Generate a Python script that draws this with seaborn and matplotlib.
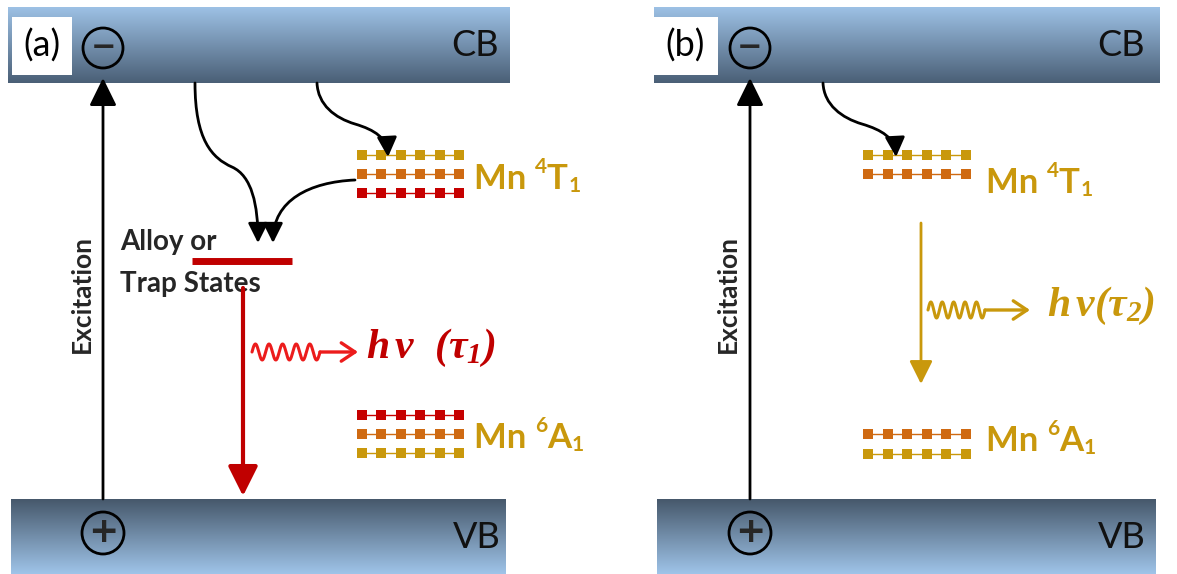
import numpy as np
import pandas as pd
import matplotlib
matplotlib.use("Agg")
import matplotlib.pyplot as plt
import matplotlib.colors as mcolors
from matplotlib.patches import Rectangle, Circle, FancyArrowPatch
from matplotlib.path import Path
import seaborn as sns

# ---------------- data (labels and level energies) ----------------
panel_labels = ["(a)", "(b)"]
band_labels = ["CB", "VB"]
excitation_label = "Excitation"
trap_label = ["Alloy or", "Trap States"]
emission_labels = [r"$h\,\nu\ \ (\tau_1)$", r"$h\,\nu(\tau_2)$"]
mn_upper_parts = ["Mn ", "4", "T", "1"]
mn_lower_parts = ["Mn ", "6", "A", "1"]

# Mn sub-levels (image rows, top = 0) and their tones
a_4T1_levels = [155, 174, 193]
a_4T1_tones = ["gold", "orange", "red"]
a_6A1_levels = [415, 434, 453]
a_6A1_tones = ["red", "orange", "gold"]
b_4T1_levels = [155, 174]
b_4T1_tones = ["gold", "orange"]
b_6A1_levels = [434, 454]
b_6A1_tones = ["orange", "gold"]
sublevel_sites = [0, 1, 2, 3, 4, 5]
trap_level = 261

# ---------------- style ----------------
sns.set_theme(style="white")
plt.rcParams["font.family"] = ["Lato", "DejaVu Sans"]
plt.rcParams["mathtext.fontset"] = "custom"
plt.rcParams["mathtext.it"] = "Liberation Serif:italic:bold"
plt.rcParams["mathtext.rm"] = "Liberation Serif:italic:bold"

tone_colors = {"gold": "#c9980c", "orange": "#cf6a12", "red": "#c60000"}
RED = "#c00000"
WAVE_RED = "#ec1c1c"
GOLD = "#c9980c"
CB_TOP, CB_BOT = "#9dc1e5", "#4a5f76"
VB_TOP, VB_BOT = "#46586b", "#9fc4e9"

fig = plt.figure(figsize=(11.77, 5.74), dpi=100)
ax = fig.add_axes([0, 0, 1, 1])


def band(x0, x1, y0, y1, c_top, c_bot):
    t = np.linspace(0, 1, 256)[:, None]
    top = np.array(mcolors.to_rgb(c_top))
    bot = np.array(mcolors.to_rgb(c_bot))
    img = (1 - t)[:, :, None] * top + t[:, :, None] * bot
    ax.imshow(img, extent=(x0, x1, y1, y0), origin="upper", aspect="auto",
              zorder=1, interpolation="bilinear")


def arrow(p0, p1, color="black", lw=2, hl=0.55, hw=0.28, ms=30, style="-|>"):
    st = f"{style},head_length={hl},head_width={hw}" if style == "-|>" else style
    a = FancyArrowPatch(p0, p1, arrowstyle=st, mutation_scale=ms, lw=lw,
                        color=color, shrinkA=0, shrinkB=0, zorder=4)
    ax.add_patch(a)


def curve(points, ms=20):
    codes = [Path.MOVETO] + [Path.CURVE4] * (len(points) - 1)
    p = Path(points, codes)
    a = FancyArrowPatch(path=p, arrowstyle="-|>,head_length=0.6,head_width=0.3",
                        mutation_scale=ms, lw=2, color="black", zorder=4)
    ax.add_patch(a)


def wave(x0, x1, x_end, y, color):
    xs = np.linspace(x0, x1, 300)
    ys = y - 8 * np.sin((xs - x0) / (x1 - x0) * 2 * np.pi * 5)
    ax.plot(xs, ys, color=color, lw=2.2, zorder=4)
    arrow((x1, y), (x_end, y), color=color, lw=2.4,
          style="->,head_length=0.45,head_width=0.3", ms=22)


def levels(x0, spacing, ys, tones):
    rows = []
    for r, (yv, tn) in enumerate(zip(ys, tones)):
        for s in sublevel_sites:
            rows.append({"x": x0 + s * spacing, "y": yv, "tone": tn, "row": f"{x0}-{r}"})
    df = pd.DataFrame(rows)
    sns.lineplot(data=df, x="x", y="y", hue="tone", units="row", estimator=None,
                 palette=tone_colors, lw=1, legend=False, ax=ax, zorder=3, sort=False)
    sns.scatterplot(data=df, x="x", y="y", hue="tone", palette=tone_colors,
                    marker="s", s=50, linewidth=0, legend=False, ax=ax, zorder=3)


def term_label(x, y, parts, size=25):
    base, sup, main, sub = parts
    kw = dict(color=GOLD, fontweight="bold", zorder=3, annotation_clip=False)
    t1 = ax.text(x, y, base, fontsize=size, color=GOLD, fontweight="bold",
                 ha="left", va="center", zorder=3)
    t2 = ax.annotate(sup, xy=(1, 0.55), xycoords=t1, ha="left", va="bottom",
                     fontsize=size * 0.6, **kw)
    t3 = ax.annotate(main, xy=(1, 0), xycoords=(t2, t1), ha="left", va="bottom",
                     fontsize=size, **kw)
    ax.annotate(sub, xy=(1, 0), xycoords=(t3, t1), xytext=(0.5, -1),
                textcoords="offset points", ha="left", va="bottom",
                fontsize=size * 0.6, **kw)


panels = [
    dict(x0=8, x1=510, exc=103, lab_box=(12, 17, 60, 58), lab_c=(42, 46),
         cb_txt=475, vb_txt=477, lev_x=362, lev_dx=19.4, mn_x=474,
         up=(a_4T1_levels, a_4T1_tones), lo=(a_6A1_levels, a_6A1_tones),
         mn_up_y=179, mn_lo_y=438, exc_txt=82),
    dict(x0=654, x1=1160, exc=750, lab_box=(653, 17, 65, 58), lab_c=(685, 46),
         cb_txt=1121, vb_txt=1122, lev_x=868, lev_dx=19.6, mn_x=986,
         up=(b_4T1_levels, b_4T1_tones), lo=(b_6A1_levels, b_6A1_tones),
         mn_up_y=183, mn_lo_y=441, exc_txt=728),
]

for i, P in enumerate(panels):
    band(P["x0"], P["x1"], 7, 83, CB_TOP, CB_BOT)
    band(P["x0"] + 3, P["x1"] - 4, 499, 574, VB_TOP, VB_BOT)
    bx, by, bw, bh = P["lab_box"]
    ax.add_patch(Rectangle((bx, by), bw, bh, facecolor="white", edgecolor="none", zorder=2))
    ax.text(*P["lab_c"], panel_labels[i], fontsize=26, ha="center", va="center",
            color="black", zorder=3)
    ax.text(P["cb_txt"], 46, band_labels[0], fontsize=26, ha="center", va="center",
            color="#111111", zorder=3)
    ax.text(P["vb_txt"], 538, band_labels[1], fontsize=26, ha="center", va="center",
            color="#111111", zorder=3)
    # charge circles
    ax.add_patch(Circle((P["exc"], 48), 20, facecolor="none", edgecolor="black", lw=2, zorder=3))
    ax.text(P["exc"], 47, "\u2212", fontsize=22, fontweight="bold", ha="center", va="center",
            family="DejaVu Sans", zorder=3)
    ax.add_patch(Circle((P["exc"], 533), 21, facecolor="none", edgecolor="black", lw=2, zorder=3))
    ax.text(P["exc"], 532, "+", fontsize=26, fontweight="bold", ha="center", va="center",
            family="DejaVu Sans", zorder=3)
    # excitation
    arrow((P["exc"], 499), (P["exc"], 78), ms=26, hl=0.65, hw=0.32)
    ax.text(P["exc_txt"], 294, excitation_label, rotation=90, fontsize=19, fontweight="bold",
            ha="center", va="center", zorder=3)
    # Mn levels
    levels(P["lev_x"], P["lev_dx"], *P["up"])
    levels(P["lev_x"], P["lev_dx"], *P["lo"])
    term_label(P["mn_x"], P["mn_up_y"], mn_upper_parts)
    term_label(P["mn_x"], P["mn_lo_y"], mn_lower_parts)

# ---- panel (a) specifics ----
ax.plot([192, 292], [trap_level, trap_level], color=RED, lw=5, solid_capstyle="butt", zorder=3)
ax.text(120, 242, trap_label[0], fontsize=20, fontweight="bold", ha="left", va="center", zorder=3)
ax.text(120, 284, trap_label[1], fontsize=20, fontweight="bold", ha="left", va="center", zorder=3)
curve([(195, 83), (195, 140), (212, 158), (232, 167), (252, 176), (258, 205), (258, 243)])
curve([(317, 83), (318, 105), (335, 118), (355, 124), (375, 130), (387, 138), (388, 157)])
curve([(355, 180), (310, 182), (273, 200), (273, 243)])
arrow((243, 288), (243, 496), color=RED, lw=3, ms=26, hl=0.7, hw=0.35)
wave(252, 320, 358, 352, WAVE_RED)
ax.text(366, 348, emission_labels[0], fontsize=30, color=RED, ha="left", va="center", zorder=3)

# ---- panel (b) specifics ----
curve([(823, 83), (824, 105), (842, 118), (862, 124), (882, 130), (895, 138), (896, 157)])
arrow((921, 223), (921, 384), color=GOLD, lw=2, ms=20, hl=0.7, hw=0.35)
wave(928, 985, 1030, 310, GOLD)
ax.text(1047, 306, emission_labels[1], fontsize=30, color=GOLD, ha="left", va="center", zorder=3)

ax.set_xlim(0, 1177)
ax.set_ylim(574, 0)
ax.axis("off")
fig.savefig("out.png", dpi=100, facecolor="white")
